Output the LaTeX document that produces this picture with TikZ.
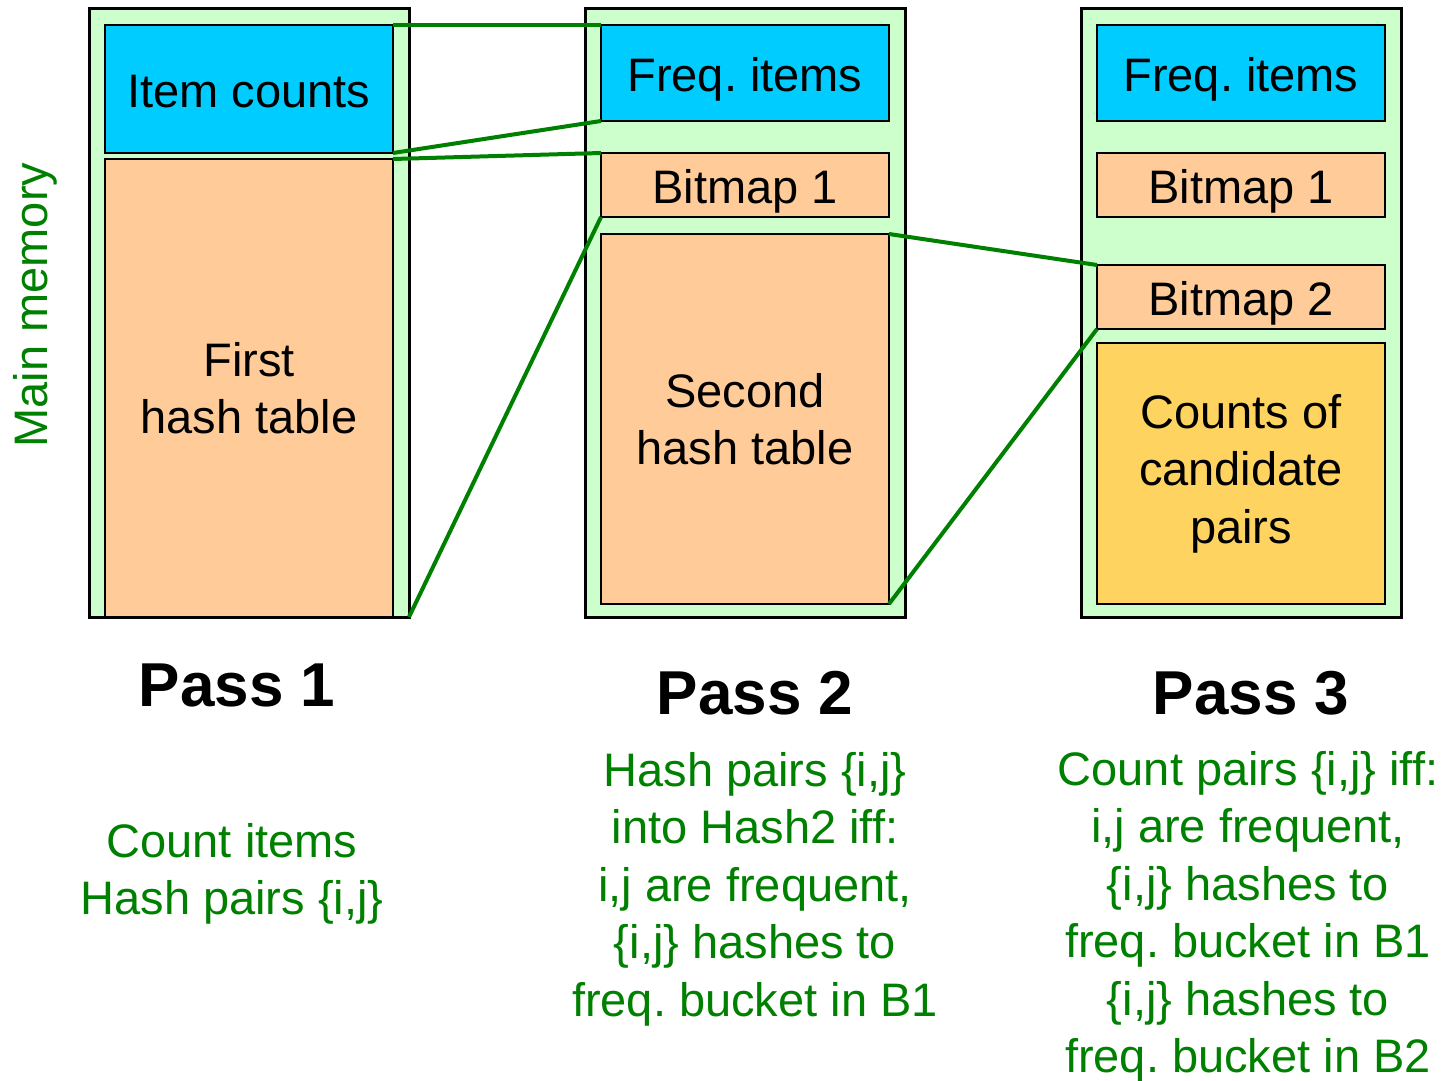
\documentclass[tikz,border=0pt]{standalone}
\usepackage{fontspec}
\setmainfont{Liberation Sans}
\frenchspacing
\definecolor{memgreen}{HTML}{CCFFCC}
\definecolor{cyanc}{HTML}{00CCFF}
\definecolor{peach}{HTML}{FFCC99}
\definecolor{gold}{HTML}{FFD35F}
\definecolor{dgreen}{HTML}{008000}
\begin{document}
\begin{tikzpicture}[x=1pt,y=-1pt,
  mem/.style={draw=black, line width=3pt, fill=memgreen, minimum width=320, minimum height=608, inner sep=0, outer sep=0},
  blk/.style={draw=black, line width=2.5pt, minimum width=288, inner sep=0, outer sep=0, align=center, font=\fontsize{47}{57.5}\selectfont},
  oneline/.style={text height=37.6pt, text depth=0pt},
  lnk/.style={draw=dgreen, line width=4pt},
  passlbl/.style={font=\fontsize{62}{70}\selectfont\bfseries},
  note/.style={text=dgreen, align=center, font=\fontsize{47}{57.5}\selectfont, inner sep=0}]
\useasboundingbox (0,0) rectangle (1443,1081);
% memory columns
\node[mem] (m1) at (249,313) {};
\node[mem] (m2) at (745,313) {};
\node[mem] (m3) at (1241,313) {};
% pass 1
\node[blk, oneline, fill=cyanc, minimum height=128] (ic) at (249,89) {Item counts};
\node[blk, fill=peach, minimum height=458] (fh) at (249,388) {First\\hash table};
% pass 2
\node[blk, oneline, fill=cyanc, minimum height=96] (fi2) at (745,73) {Freq. items};
\node[blk, oneline, fill=peach, minimum height=64] (b12) at (745,185) {Bitmap 1};
\node[blk, fill=peach, minimum height=370] (sh) at (745,419) {Second\\hash table};
% pass 3
\node[blk, oneline, fill=cyanc, minimum height=96] (fi3) at (1241,73) {Freq. items};
\node[blk, oneline, fill=peach, minimum height=64] (b13) at (1241,185) {Bitmap 1};
\node[blk, oneline, fill=peach, minimum height=64] (b23) at (1241,297) {Bitmap 2};
\node[blk, fill=gold, minimum height=261] (cp) at (1241,473.5) {Counts of\\candidate\\pairs};
% links
\draw[lnk] (ic.north east) -- (fi2.north west);
\draw[lnk] (ic.south east) -- (fi2.south west);
\draw[lnk] (fh.north east) -- (b12.north west);
\draw[lnk] (m1.south east) -- (b12.south west);
\draw[lnk] (sh.north east) -- (b23.north west);
\draw[lnk] (sh.south east) -- (b23.south west);
% labels
\node[note, rotate=90] (mm) at (35,305) {Main memory};
\node[passlbl] (p1) at (237,685) {Pass 1};
\node[passlbl] (p2) at (755,693) {Pass 2};
\node[passlbl] (p3) at (1251,693) {Pass 3};
\node[note] (n1) at (232,874) {Count items\\Hash pairs \{i,j\}};
\node[note] (n2) at (755,889) {Hash pairs \{i,j\}\\into Hash2 iff:\\i,j are frequent,\\\{i,j\} hashes to\\freq. bucket in B1};
\node[note] (n3) at (1248,917) {Count pairs \{i,j\} iff:\\i,j are frequent,\\\{i,j\} hashes to\\freq. bucket in B1\\\{i,j\} hashes to\\freq. bucket in B2};
\end{tikzpicture}
\end{document}
